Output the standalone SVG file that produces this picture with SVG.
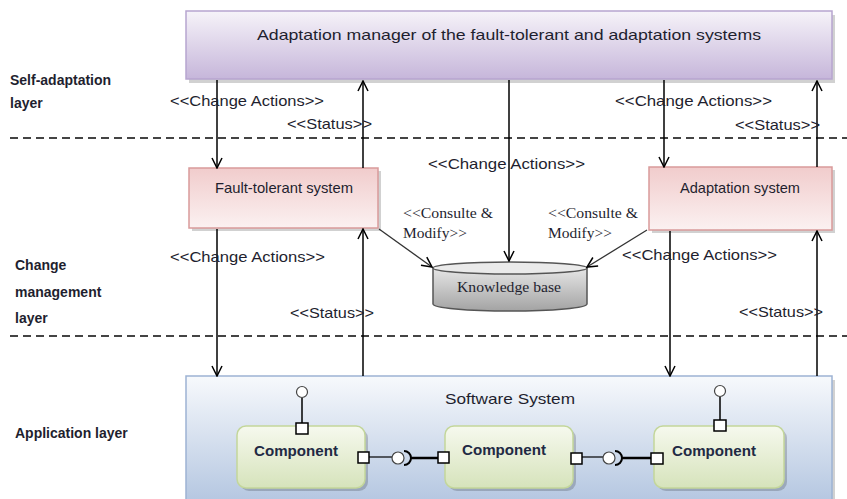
<svg xmlns="http://www.w3.org/2000/svg" width="847" height="499" viewBox="0 0 847 499">
<defs>
<linearGradient id="gPurple" x1="0" y1="0" x2="0" y2="1"><stop offset="0" stop-color="#f6f3f9"/><stop offset="1" stop-color="#c6b6da"/></linearGradient>
<linearGradient id="gPink" x1="0" y1="0" x2="0" y2="1"><stop offset="0" stop-color="#f1cccc"/><stop offset="1" stop-color="#fbf1f1"/></linearGradient>
<linearGradient id="gBlue" x1="0" y1="0" x2="0" y2="1"><stop offset="0" stop-color="#f7f9fc"/><stop offset="1" stop-color="#b5c7e1"/></linearGradient>
<linearGradient id="gGreen" x1="0" y1="0" x2="0" y2="1"><stop offset="0" stop-color="#f6f9ee"/><stop offset="1" stop-color="#d6e3bb"/></linearGradient>
<linearGradient id="gGray" x1="0" y1="0" x2="0" y2="1"><stop offset="0" stop-color="#e6e6e6"/><stop offset="1" stop-color="#a3a3a3"/></linearGradient>
<marker id="arr" viewBox="0 0 12 12" refX="11" refY="6" markerWidth="12" markerHeight="12" markerUnits="userSpaceOnUse" orient="auto"><path d="M1,1 L11,6 L1,11" fill="none" stroke="#000" stroke-width="1.5"/></marker>
</defs>
<style>
.lbl{font-family:"Liberation Sans",Arial,sans-serif;font-size:14.5px;fill:#1f1f2f}
.ser{font-family:"Liberation Serif","Times New Roman",serif;font-size:14px;fill:#1f1f2f}
.layer{font-family:"Liberation Sans",Arial,sans-serif;font-size:14px;font-weight:bold;fill:#1f1f2f}
.comp{font-family:"Liberation Sans",Arial,sans-serif;font-size:14px;font-weight:bold;fill:#1f2a44}
.conn{stroke:#000;stroke-width:1.5;fill:none}
.dash{stroke:#444;stroke-width:2;stroke-dasharray:8,5}
.port{fill:#fff;stroke:#000;stroke-width:1.5}
.shadow{fill:#000;opacity:0.18}
</style>
<rect width="847" height="499" fill="#fff"/>

<g id="layers">
<line class="dash" x1="10" y1="138" x2="847" y2="138"/>
<line class="dash" x1="10" y1="336" x2="847" y2="336"/>
<text class="layer" x="10" y="85">Self-adaptation</text>
<text class="layer" x="10" y="108">layer</text>
<text class="layer" x="15" y="270">Change</text>
<text class="layer" x="15" y="297">management</text>
<text class="layer" x="15" y="323">layer</text>
<text class="layer" x="15" y="438">Application layer</text>
</g>

<g id="manager">
<rect class="shadow" x="189" y="15" width="646" height="68"/>
<rect x="186" y="11" width="646" height="68" fill="url(#gPurple)" stroke="#b7a5cf" stroke-width="1.5"/>
<text class="lbl" x="509" y="40" text-anchor="middle" font-size="16" textLength="504" lengthAdjust="spacingAndGlyphs">Adaptation manager of the fault-tolerant and adaptation systems</text>
</g>

<g id="fault-tolerant">
<rect class="shadow" x="192" y="171" width="189" height="60"/>
<rect x="189" y="168" width="189" height="60" fill="url(#gPink)" stroke="#d99a9a" stroke-width="1.5"/>
<text class="lbl" x="284" y="193" text-anchor="middle" font-size="12.5" textLength="138" lengthAdjust="spacingAndGlyphs">Fault-tolerant  system</text>
</g>

<g id="adaptation">
<rect class="shadow" x="652" y="170" width="183" height="63"/>
<rect x="649" y="167" width="183" height="63" fill="url(#gPink)" stroke="#d99a9a" stroke-width="1.5"/>
<text class="lbl" x="740" y="193" text-anchor="middle" font-size="12.5" textLength="120" lengthAdjust="spacingAndGlyphs">Adaptation  system</text>
</g>

<g id="knowledge">
<path d="M433,268 L433,304 A77,7 0 0 0 587,304 L587,268" fill="url(#gGray)" stroke="#555" stroke-width="1.5"/>
<ellipse cx="510" cy="268" rx="77" ry="6" fill="#eaeaea" stroke="#555" stroke-width="1.5"/>
<text class="ser" x="509" y="292" text-anchor="middle" textLength="104" lengthAdjust="spacingAndGlyphs">Knowledge  base</text>
</g>

<g id="software">
<rect class="shadow" x="189" y="380" width="646" height="122"/>
<rect x="186" y="376" width="646" height="125" fill="url(#gBlue)" stroke="#9db3d3" stroke-width="1.5"/>
<text class="lbl" x="510" y="404" text-anchor="middle" font-size="15" textLength="130" lengthAdjust="spacingAndGlyphs">Software System</text>
</g>

<g id="comp1">
<rect class="shadow" x="240" y="429" width="128" height="62" rx="9"/>
<rect x="237" y="426" width="128" height="62" rx="9" fill="url(#gGreen)" stroke="#c3d69b" stroke-width="1.5"/>
<text class="comp" x="254" y="456" textLength="84" lengthAdjust="spacingAndGlyphs">Component</text>
</g>
<g id="comp2">
<rect class="shadow" x="448" y="429" width="128" height="62" rx="9"/>
<rect x="445" y="426" width="128" height="62" rx="9" fill="url(#gGreen)" stroke="#c3d69b" stroke-width="1.5"/>
<text class="comp" x="462" y="455" textLength="84" lengthAdjust="spacingAndGlyphs">Component</text>
</g>
<g id="comp3">
<rect class="shadow" x="657" y="429" width="130" height="62" rx="9"/>
<rect x="654" y="426" width="130" height="62" rx="9" fill="url(#gGreen)" stroke="#c3d69b" stroke-width="1.5"/>
<text class="comp" x="672" y="456" textLength="84" lengthAdjust="spacingAndGlyphs">Component</text>
</g>

<g id="interfaces">
<line class="conn" x1="302" y1="398" x2="302" y2="424"/>
<circle cx="302" cy="392" r="5.5" fill="#fff" stroke="#444" stroke-width="1.2"/>
<rect class="port" x="296" y="423" width="12" height="11"/>
<line class="conn" x1="720" y1="397" x2="720" y2="420"/>
<circle cx="720" cy="391" r="5.5" fill="#fff" stroke="#444" stroke-width="1.2"/>
<rect class="port" x="714" y="420" width="12" height="11"/>
<line stroke="#000" stroke-width="1.2" x1="369" y1="457" x2="392" y2="457"/>
<line stroke="#000" stroke-width="2.5" x1="410" y1="458" x2="438" y2="458"/>
<path d="M404,451 A7,7 0 1 1 404,465" fill="none" stroke="#000" stroke-width="2"/>
<circle cx="398" cy="458" r="6" fill="#fff" stroke="#444" stroke-width="1.2"/>
<rect class="port" x="358" y="452" width="11" height="11"/>
<rect class="port" x="438" y="452" width="11" height="11"/>
<line stroke="#000" stroke-width="1.2" x1="582" y1="457" x2="603" y2="457"/>
<line stroke="#000" stroke-width="2.5" x1="621" y1="458" x2="651" y2="458"/>
<path d="M615,451 A7,7 0 1 1 615,465" fill="none" stroke="#000" stroke-width="2"/>
<circle cx="609" cy="458" r="6" fill="#fff" stroke="#444" stroke-width="1.2"/>
<rect class="port" x="571" y="453" width="11" height="11"/>
<rect class="port" x="651" y="453" width="12" height="11"/>
</g>

<g id="connectors">
<line class="conn" x1="217" y1="80" x2="217" y2="168" marker-end="url(#arr)"/>
<line class="conn" x1="363" y1="168" x2="363" y2="81" marker-end="url(#arr)"/>
<line class="conn" x1="509" y1="80" x2="509" y2="261" marker-end="url(#arr)"/>
<line class="conn" x1="664" y1="80" x2="664" y2="167" marker-end="url(#arr)"/>
<line class="conn" x1="817" y1="167" x2="817" y2="81" marker-end="url(#arr)"/>
<line class="conn" x1="217" y1="229" x2="217" y2="376" marker-end="url(#arr)"/>
<line class="conn" x1="363" y1="376" x2="363" y2="229" marker-end="url(#arr)"/>
<line class="conn" x1="670" y1="231" x2="670" y2="376" marker-end="url(#arr)"/>
<line class="conn" x1="817" y1="376" x2="817" y2="231" marker-end="url(#arr)"/>
<line stroke="#333" stroke-width="1.3" x1="379" y1="229" x2="432" y2="267" marker-end="url(#arr)"/>
<line stroke="#333" stroke-width="1.3" x1="647" y1="230" x2="587" y2="267" marker-end="url(#arr)"/>
</g>

<g id="labels">
<text class="lbl" x="170" y="106" textLength="154" lengthAdjust="spacingAndGlyphs">&lt;&lt;Change Actions&gt;&gt;</text>
<text class="lbl" x="287" y="129" textLength="85" lengthAdjust="spacingAndGlyphs">&lt;&lt;Status&gt;&gt;</text>
<text class="lbl" x="615" y="106" textLength="157" lengthAdjust="spacingAndGlyphs">&lt;&lt;Change Actions&gt;&gt;</text>
<text class="lbl" x="735" y="130" textLength="85" lengthAdjust="spacingAndGlyphs">&lt;&lt;Status&gt;&gt;</text>
<text class="lbl" x="428" y="169" textLength="157" lengthAdjust="spacingAndGlyphs">&lt;&lt;Change Actions&gt;&gt;</text>
<text class="lbl" x="170" y="262" textLength="155" lengthAdjust="spacingAndGlyphs">&lt;&lt;Change Actions&gt;&gt;</text>
<text class="lbl" x="290" y="318" textLength="84" lengthAdjust="spacingAndGlyphs">&lt;&lt;Status&gt;&gt;</text>
<text class="lbl" x="622" y="260" textLength="155" lengthAdjust="spacingAndGlyphs">&lt;&lt;Change Actions&gt;&gt;</text>
<text class="lbl" x="739" y="317" textLength="84" lengthAdjust="spacingAndGlyphs">&lt;&lt;Status&gt;&gt;</text>
<text class="ser" x="403" y="218" textLength="90" lengthAdjust="spacingAndGlyphs">&lt;&lt;Consulte &amp;</text>
<text class="ser" x="403" y="238" textLength="64" lengthAdjust="spacingAndGlyphs">Modify&gt;&gt;</text>
<text class="ser" x="548" y="218" textLength="90" lengthAdjust="spacingAndGlyphs">&lt;&lt;Consulte &amp;</text>
<text class="ser" x="548" y="238" textLength="64" lengthAdjust="spacingAndGlyphs">Modify&gt;&gt;</text>
</g>
</svg>
